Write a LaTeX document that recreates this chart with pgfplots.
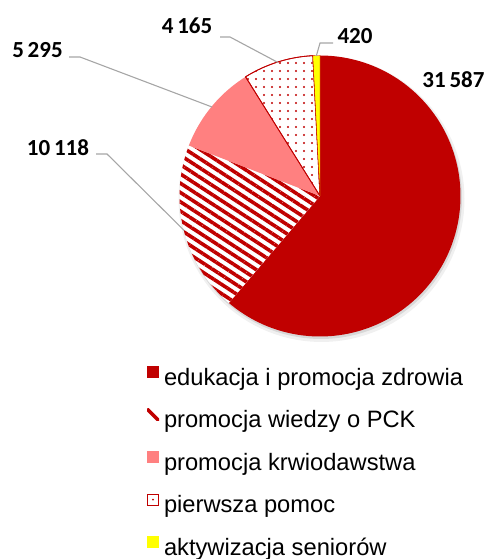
\documentclass[border=0pt]{standalone}
\usepackage{fontspec}
\setmainfont{Liberation Sans}
\newfontfamily\carlito{Carlito}
\usepackage{pgfplots}
\pgfplotsset{compat=1.18}
\usepackage{pgfplotstable}
\usetikzlibrary{patterns.meta}
\definecolor{pcred}{RGB}{192,0,0}
\definecolor{pcpink}{RGB}{255,128,128}
\definecolor{pcyellow}{RGB}{255,255,0}
\definecolor{leader}{RGB}{166,166,166}

\pgfplotstableread{
category value
edukacja 31587
wiedza 10118
krew 5295
pomoc 4165
seniorzy 420
}\piedata
\pgfplotstablegetelem{0}{value}\of\piedata \edef\vA{\pgfplotsretval}
\pgfplotstablegetelem{1}{value}\of\piedata \edef\vB{\pgfplotsretval}
\pgfplotstablegetelem{2}{value}\of\piedata \edef\vC{\pgfplotsretval}
\pgfplotstablegetelem{3}{value}\of\piedata \edef\vD{\pgfplotsretval}
\pgfplotstablegetelem{4}{value}\of\piedata \edef\vE{\pgfplotsretval}
\edef\tot{\fpeval{\vA+\vB+\vC+\vD+\vE}}
\def\aO{90}
\edef\aA{\fpeval{90-360*\vA/\tot}}
\edef\aB{\fpeval{\aA-360*\vB/\tot}}
\edef\aC{\fpeval{\aB-360*\vC/\tot}}
\edef\aD{\fpeval{\aC-360*\vD/\tot}}
\edef\aE{\fpeval{\aD-360*\vE/\tot}}
\def\cx{320}
\def\cy{363}
\def\R{140.5}

\begin{document}
\begin{tikzpicture}
\begin{axis}[
  scale only axis, width=489pt, height=559pt,
  xmin=0, xmax=489, ymin=0, ymax=559,
  hide axis, clip=false,
  legend style={at={(axis cs:147,192.5)}, anchor=north west, draw=none, fill=none,
    inner sep=0pt, outer sep=0pt, row sep=18.4pt, column sep=5pt,
    font=\fontsize{23.7}{28}\selectfont,
    nodes={inner sep=0pt, text height=17pt, text depth=5pt}},
  legend cell align=left,
]
% shadow
\addplot[draw=none, fill=black, fill opacity=0.06, domain=0:360, samples=120, variable=\t, forget plot]
  ({\cx+1.5+(\R+2.5)*cos(t)}, {\cy-3+(\R+2.5)*sin(t)}) -- cycle;
\addplot[draw=none, fill=black, fill opacity=0.10, domain=0:360, samples=120, variable=\t, forget plot]
  ({\cx+1+(\R+0.5)*cos(t)}, {\cy-2+(\R+0.5)*sin(t)}) -- cycle;
% slices
\addplot[draw=none, fill=pcred, domain=\aA:\aO, samples=120, variable=\t, forget plot]
  ({\cx+\R*cos(t)}, {\cy+\R*sin(t)}) -- (axis cs:\cx,\cy) -- cycle;
\addplot[draw=none, fill=white, postaction={pattern={Lines[angle=-33,distance=7.8pt,line width=3.6pt]}, pattern color=pcred}, domain=\aB:\aA, samples=60, variable=\t, forget plot]
  ({\cx+\R*cos(t)}, {\cy+\R*sin(t)}) -- (axis cs:\cx,\cy) -- cycle;
\addplot[draw=none, fill=pcpink, domain=\aC:\aB, samples=40, variable=\t, forget plot]
  ({\cx+\R*cos(t)}, {\cy+\R*sin(t)}) -- (axis cs:\cx,\cy) -- cycle;
\addplot[draw=pcred, line width=0.8pt, fill=white, postaction={pattern={Dots[radius=1.1pt,distance=8pt]}, pattern color=pcred}, domain=\aD:\aC, samples=30, variable=\t, forget plot]
  ({\cx+\R*cos(t)}, {\cy+\R*sin(t)}) -- (axis cs:\cx,\cy) -- cycle;
\addplot[draw=pcred, line width=0.3pt, fill=pcyellow, domain=\aE:\aD, samples=10, variable=\t, forget plot]
  ({\cx+\R*cos(t)}, {\cy+\R*sin(t)}) -- (axis cs:\cx,\cy) -- cycle;

% leader lines
\addplot[leader, line width=1.1pt, forget plot] coordinates {(96,405) (107,405) (184.3,328.4)};
\addplot[leader, line width=1.1pt, forget plot] coordinates {(69,502) (80,502) (212,452)};
\addplot[leader, line width=1.1pt, forget plot] coordinates {(220,522) (230,522) (278,496.5)};
\addplot[leader, line width=1.1pt, forget plot] coordinates {(333,516) (320,516) (316.3,503)};

% labels
\node[font=\carlito\bfseries\fontsize{23}{26}\selectfont] at (axis cs:453.5,479.5) {31\,587};
\node[font=\carlito\bfseries\fontsize{23}{26}\selectfont] at (axis cs:58,411.5) {10\,118};
\node[font=\carlito\bfseries\fontsize{23}{26}\selectfont] at (axis cs:37.5,509) {5\,295};
\node[font=\carlito\bfseries\fontsize{23}{26}\selectfont] at (axis cs:187,533) {4\,165};
\node[font=\carlito\bfseries\fontsize{23}{26}\selectfont] at (axis cs:355,523) {420};

% legend
\addlegendimage{legend image code/.code={\path[fill=pcred, draw=none] (0pt,1pt) rectangle (12pt,13pt);}}
\addlegendentry{edukacja i promocja zdrowia}
\addlegendimage{legend image code/.code={\begin{scope}\path[clip, draw=none] (0pt,1pt) rectangle (12pt,13pt);\path[draw=pcred, line width=3.4pt] (0pt,13pt) -- (12pt,1pt);\end{scope}}}
\addlegendentry{promocja wiedzy o PCK}
\addlegendimage{legend image code/.code={\path[fill=pcpink, draw=none] (0pt,1pt) rectangle (12pt,13pt);}}
\addlegendentry{promocja krwiodawstwa}
\addlegendimage{legend image code/.code={\path[draw=pcred, fill=white, line width=0.8pt] (0.4pt,1.4pt) rectangle (11.6pt,12.6pt); \path[fill=pcred, draw=none] (6pt,7pt) circle (1pt);}}
\addlegendentry{pierwsza pomoc}
\addlegendimage{legend image code/.code={\path[fill=pcyellow, draw=none] (0pt,1pt) rectangle (12pt,13pt);}}
\addlegendentry{aktywizacja seniorów}
\end{axis}
\pgfresetboundingbox
\useasboundingbox (0,0) rectangle (489pt,559pt);
\end{tikzpicture}
\end{document}
